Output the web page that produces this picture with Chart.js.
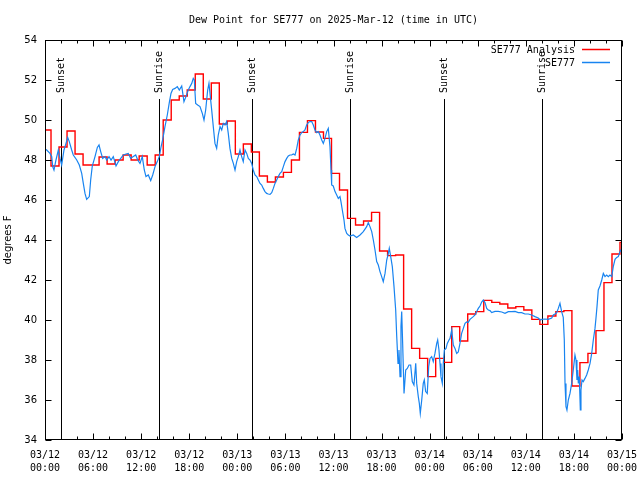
<!DOCTYPE html>
<html><head><meta charset="utf-8">
<script src="https://cdn.jsdelivr.net/npm/chart.js@4.4.1/dist/chart.umd.min.js"></script>
<style>html,body{margin:0;padding:0;background:#fff}#wrap{width:640px;height:480px}</style>
</head><body><div id="wrap"><canvas id="c" width="640" height="480"></canvas></div>
<script>
const chartTitle = 'Dew Point for SE777 on 2025-Mar-12 (time in UTC)';
const yAxisLabel = 'degrees F';
const seriesNames = ['SE777 Analysis', 'SE777'];
const tickDates = ['03/12','03/12','03/12','03/12','03/13','03/13','03/13','03/13','03/14','03/14','03/14','03/14','03/15'];
const tickTimes = ['00:00','06:00','12:00','18:00','00:00','06:00','12:00','18:00','00:00','06:00','12:00','18:00','00:00'];

// hourly analysis values (hours since 03/12 00:00), first one valid from -0.25 h
const analysisStartHour = -0.25;
const analysisValues = [49.5,47.7,48.65,49.45,48.3,47.75,47.75,48.15,47.8,48.0,
 48.25,48.0,48.2,47.75,48.25,50.0,51.0,51.2,51.5,52.3,
 51.05,51.85,49.8,49.95,48.3,48.8,48.4,47.2,46.9,47.15,
 47.38,48.0,49.38,49.97,49.4,49.08,47.33,46.5,45.08,44.75,
 44.95,45.38,43.45,43.22,43.25,40.55,38.58,38.08,37.17,38.08,
 37.88,39.67,38.95,40.3,40.42,40.98,40.88,40.8,40.6,40.67,
 40.5,40.03,39.78,40.2,40.42,40.47,36.7,37.87,38.33,39.47,
 41.87,43.3,43.88];

// observations: hours since 03/12 00:00 and dew point
const obsHours = [0,0.21,0.62,0.84,0.96,1.12,1.37,1.66,1.87,2.08,2.37,2.62,2.83,3.03,3.33,3.53,3.96,4.28,4.58,4.78,
 4.99,5.20,5.53,5.70,5.90,6.24,6.53,6.74,6.95,7.20,7.49,7.70,7.99,8.24,8.52,8.86,9.15,9.45,9.77,10.11,
 10.39,10.69,11.02,11.32,11.57,11.85,12.14,12.39,12.60,12.89,13.19,13.44,13.73,14.01,14.26,14.47,14.69,14.97,15.26,15.51,
 15.72,15.93,16.22,16.51,16.76,17.06,17.34,17.59,17.88,18.09,18.31,18.50,18.63,18.80,19.05,19.34,19.63,19.84,20.05,20.30,
 20.46,20.63,20.80,21.00,21.21,21.42,21.62,21.84,22.05,22.25,22.46,22.67,22.87,23.08,23.30,23.50,23.71,23.92,24.12,24.33,
 24.54,24.74,24.96,25.17,25.37,25.58,25.79,25.99,26.20,26.42,26.62,26.83,27.04,27.24,27.45,27.66,27.86,28.08,28.29,28.49,
 28.70,28.91,29.11,29.32,29.54,29.74,29.95,30.16,30.36,30.57,30.78,30.98,31.20,31.41,31.61,31.82,32.03,32.23,32.44,32.65,
 32.85,33.07,33.28,33.48,33.69,33.90,34.10,34.31,34.53,34.73,34.94,35.15,35.35,35.56,35.69,35.77,35.97,36.19,36.40,36.60,
 36.81,36.93,37.10,37.31,37.43,37.65,37.85,38.06,38.47,38.89,39.31,39.72,40.14,40.34,40.55,40.77,40.97,41.18,41.39,41.59,
 41.80,42.01,42.21,42.43,42.64,42.84,42.96,43.14,43.34,43.55,43.76,43.89,44.05,44.17,44.30,44.42,44.51,44.63,44.80,45.01,
 45.21,45.42,45.63,45.83,46.04,46.26,46.38,46.58,46.71,46.83,47.01,47.20,47.33,47.50,47.70,47.88,48.04,48.25,48.45,48.66,
 48.88,49.00,49.16,49.29,49.41,49.58,49.70,49.83,50.04,50.20,50.41,50.54,50.75,50.95,51.16,51.37,51.57,51.78,51.99,52.20,
 52.41,52.62,52.82,53.03,53.44,53.66,53.87,54.07,54.28,54.49,54.69,54.90,55.12,55.32,55.53,55.74,56.15,56.56,56.99,57.40,
 57.81,58.24,58.65,59.06,59.48,59.89,60.31,60.73,61.14,61.55,61.77,61.98,62.39,62.80,63.23,63.43,63.64,63.85,64.05,64.26,
 64.47,64.67,64.80,64.89,65.01,65.13,65.30,65.51,65.72,65.92,66.13,66.26,66.38,66.47,66.55,66.67,66.80,66.88,67.01,67.17,
 67.38,67.59,67.79,68.01,68.22,68.42,68.63,68.75,68.88,69.04,69.25,69.47,69.67,69.88,70.09,70.29,70.50,70.72,70.91,71.13,
 71.34,71.54,71.75,72.0];
const obsValues = [48.55,48.5,48.33,48.17,47.67,47.5,48.0,48.5,48.08,47.75,48.5,48.83,49.13,48.92,48.5,48.25,48.0,47.75,47.33,46.83,
 46.33,46.03,46.17,47.0,47.7,48.17,48.63,48.75,48.42,48.08,48.17,48.0,48.17,48.0,48.17,47.7,47.92,48.08,48.25,48.3,
 48.33,48.08,48.17,48.25,48.0,47.83,48.17,47.5,47.17,47.25,46.97,47.25,47.67,47.92,48.17,48.63,49.03,49.67,50.25,50.87,
 51.33,51.53,51.58,51.67,51.5,51.7,50.92,51.17,51.5,51.67,51.83,52.08,52.0,50.83,50.75,50.67,50.33,50.0,50.5,51.5,
 51.83,51.17,50.5,49.67,48.83,48.58,49.25,49.67,49.5,49.83,49.75,49.92,49.33,48.58,48.08,47.83,47.5,47.92,48.17,48.5,
 48.17,47.92,48.5,48.33,48.08,48.0,47.83,47.5,47.25,47.17,47.0,46.83,46.75,46.58,46.42,46.33,46.3,46.28,46.37,46.58,
 46.83,47.0,47.17,47.33,47.42,47.67,47.92,48.08,48.2,48.25,48.25,48.3,48.25,48.58,49.0,49.25,49.37,49.42,49.5,49.75,
 49.87,49.92,49.92,49.75,49.5,49.37,49.42,49.25,49.0,48.83,49.08,49.42,49.58,48.67,47.5,46.75,46.7,46.42,46.25,46.08,
 46.17,45.92,45.5,45.0,44.58,44.33,44.25,44.2,44.25,44.13,44.25,44.42,44.67,44.87,44.67,44.42,44.0,43.5,42.92,42.75,
 42.42,42.17,41.92,42.33,43.0,43.33,43.58,43.17,42.67,41.67,40.5,39.17,37.83,38.5,37.17,39.67,40.42,38.83,36.33,37.5,
 37.58,37.75,37.75,36.92,36.75,37.83,36.83,36.17,35.83,35.33,36.0,36.83,37.0,36.42,36.33,37.67,38.08,38.17,37.92,38.33,
 38.83,39.0,38.5,37.83,37.17,36.83,37.83,38.5,38.58,38.83,39.0,39.08,39.5,38.75,38.58,38.33,38.4,38.83,39.33,39.58,
 39.83,39.9,39.88,40.03,40.17,40.25,40.42,40.58,40.7,40.9,41.0,40.87,40.58,40.5,40.47,40.37,40.43,40.43,40.4,40.33,
 40.42,40.42,40.43,40.37,40.37,40.3,40.3,40.25,40.17,40.1,40.0,40.03,40.05,40.03,40.1,40.25,40.3,40.37,40.58,40.83,
 40.42,40.13,39.0,36.83,35.67,35.5,36.0,36.33,36.83,37.5,38.25,38.0,37.0,37.5,36.83,37.17,35.5,36.5,37.0,36.92,
 37.08,37.25,37.5,37.83,38.33,39.0,39.58,40.08,40.67,41.5,41.7,42.0,42.33,42.17,42.25,42.17,42.25,42.17,42.67,43.03,
 43.13,43.17,43.42,43.6];

const sunEventHours = [2.03, 14.26, 25.87, 38.10, 49.83, 62.05];
const sunEventLabels = ['Sunset','Sunrise','Sunset','Sunrise','Sunset','Sunrise'];

const redColor = '#ff0000';
const blueColor = '#1884f0';
const monoFont = '"DejaVu Sans Mono", monospace';
const sansFont = '"DejaVu Sans", sans-serif';

const analysisData = analysisValues.map((v, i) => ({x: analysisStartHour + i, y: v}));
analysisData.push({x: 72, y: analysisValues[analysisValues.length - 1]});
const obsData = obsHours.map((h, i) => ({x: h, y: obsValues[i]}));

const decor = {
  id: 'decor',
  beforeDatasetsDraw(chart) {
    const {ctx, chartArea: a, scales: {x}} = chart;
    ctx.save();
    ctx.strokeStyle = '#000';
    ctx.fillStyle = '#000';
    ctx.lineWidth = 1;
    ctx.font = '10px ' + monoFont;
    sunEventHours.forEach((h, i) => {
      const px = Math.round(x.getPixelForValue(h)) + 0.5;
      ctx.beginPath();
      ctx.moveTo(px, a.bottom);
      ctx.lineTo(px, a.top + 59);
      ctx.stroke();
      ctx.save();
      ctx.translate(px, a.top + 53);
      ctx.rotate(-Math.PI / 2);
      ctx.textAlign = 'left';
      ctx.textBaseline = 'middle';
      ctx.fillText(sunEventLabels[i], 0, 0);
      ctx.restore();
    });
    ctx.restore();
  },
  afterDraw(chart) {
    const {ctx, chartArea: a, scales: {x, y}} = chart;
    ctx.save();
    ctx.strokeStyle = '#000';
    ctx.fillStyle = '#000';
    ctx.lineWidth = 1;
    const L = Math.round(a.left) + 0.5, R = Math.round(a.right) - 0.5;
    const T = Math.round(a.top) + 0.5, B = Math.round(a.bottom) - 0.5;
    ctx.strokeRect(L, T, R - L, B - T);
    ctx.beginPath();
    for (let v = 0; v <= 72; v += 2) {
      const px = Math.round(x.getPixelForValue(v)) + 0.5;
      const len = v % 6 === 0 ? 6 : 3;
      ctx.moveTo(px, B); ctx.lineTo(px, B - len);
      ctx.moveTo(px, T); ctx.lineTo(px, T + len);
    }
    for (let v = 34; v <= 54; v += 2) {
      const py = Math.round(y.getPixelForValue(v)) + 0.5;
      ctx.moveTo(L, py); ctx.lineTo(L + 6, py);
      ctx.moveTo(R, py); ctx.lineTo(R - 6, py);
    }
    ctx.stroke();
    // title
    ctx.font = '10px ' + monoFont;
    ctx.textAlign = 'center';
    ctx.textBaseline = 'middle';
    ctx.fillText(chartTitle, (a.left + a.right) / 2, 20);
    // legend
    const colors = [redColor, blueColor];
    ctx.textAlign = 'right';
    seriesNames.forEach((name, i) => {
      const ty = a.top + 10 + i * 13;
      ctx.fillStyle = '#000';
      ctx.fillText(name, a.right - 47, ty);
      ctx.strokeStyle = colors[i];
      ctx.lineWidth = 1.5;
      ctx.beginPath();
      ctx.moveTo(a.right - 40, Math.round(ty) - 0.5);
      ctx.lineTo(a.right - 12, Math.round(ty) - 0.5);
      ctx.stroke();
    });
    ctx.restore();
  }
};

new Chart(document.getElementById('c'), {
  type: 'line',
  data: {
    datasets: [
      {label: seriesNames[1], data: obsData, borderColor: blueColor, borderWidth: 1.2, pointRadius: 0, tension: 0},
      {label: seriesNames[0], data: analysisData, borderColor: redColor, borderWidth: 1.4, pointRadius: 0, stepped: 'before'}
    ]
  },
  options: {
    responsive: false,
    animation: false,
    layout: {padding: {top: 40, right: 18, left: 0, bottom: 0}},
    plugins: {legend: {display: false}, tooltip: {enabled: false}, title: {display: false}},
    scales: {
      x: {
        type: 'linear', min: 0, max: 72,
        grid: {display: false, drawTicks: false}, border: {display: false},
        ticks: {
          stepSize: 6, autoSkip: false, maxRotation: 0, padding: 9, color: '#000',
          font: {family: monoFont, size: 10, lineHeight: 1.3},
          callback: (v) => { const i = Math.round(v / 6); return [tickDates[i], tickTimes[i]]; }
        },
        afterFit: (s) => { s.height = 40; s.paddingLeft = 0; s.paddingRight = 0; }
      },
      y: {
        min: 34, max: 54,
        grid: {display: false, drawTicks: false}, border: {display: false},
        ticks: {stepSize: 2, padding: 8, color: '#000', font: {family: sansFont, size: 10}},
        title: {display: true, text: yAxisLabel, color: '#000', font: {family: sansFont, size: 10}, padding: {top: 2, bottom: 0}},
        afterFit: (s) => { s.width = 45; s.paddingTop = 0; s.paddingBottom = 0; }
      }
    }
  },
  plugins: [decor]
});
</script></body></html>
